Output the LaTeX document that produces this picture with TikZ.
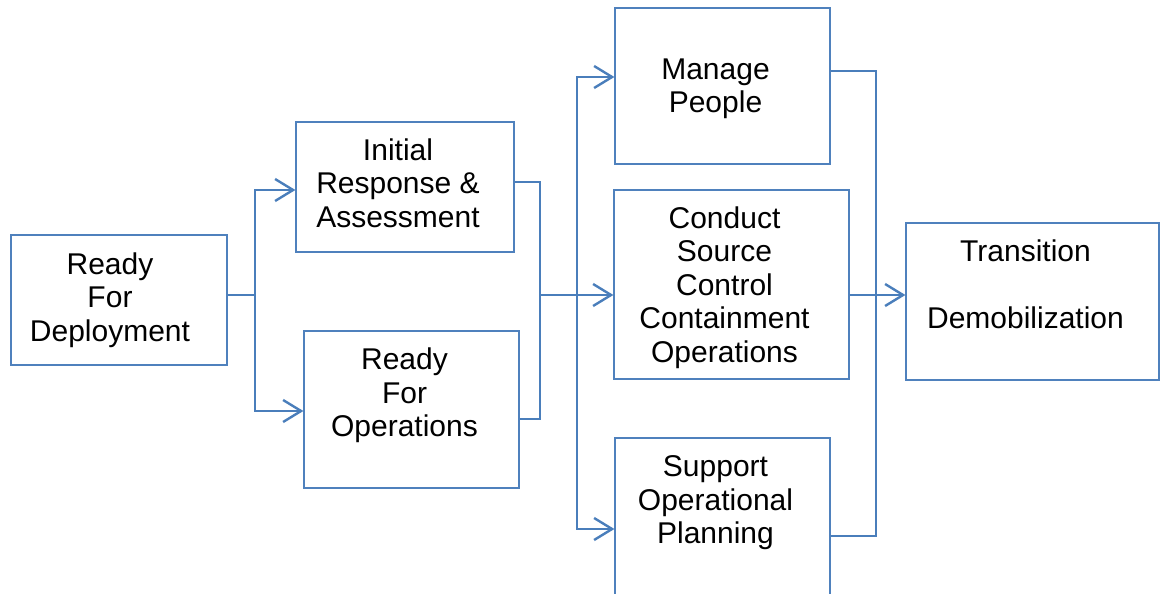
\documentclass[tikz,border=0pt]{standalone}
\usepackage{fontspec}
\setmainfont{Liberation Sans}
\usetikzlibrary{arrows.meta}
\definecolor{cor_caixa}{HTML}{4F81BD}
\definecolor{cor_linha}{HTML}{4A7EBB}

\begin{document}
\begin{tikzpicture}[x=1pt, y=-1pt]
        \tikzset{
            caixa/.style={
                draw=cor_caixa,
                line width=1.2pt,
                inner sep=0pt
            },
            texto/.style={
                font=\fontsize{30}{33.5}\selectfont,
                align=center,
                xshift=-7pt
            },
            liga/.style={
                draw=cor_linha,
                line width=2.4pt
            },
            seta/.style={
                liga,
                -{Straight Barb[length=18pt,width=22pt]}
            }
        }
        \useasboundingbox (0,0) rectangle (1160,594);

        %caixas
        \node[caixa, minimum width=216pt, minimum height=130pt,
              label={[texto, xshift=-2pt]center:Ready\\For\\Deployment}] (deploy) at (119,300) {};
        \node[caixa, minimum width=218pt, minimum height=130pt,
              label={[texto, yshift=4pt]center:Initial\\Response \&\\Assessment}] (init) at (405,187) {};
        \node[caixa, minimum width=215pt, minimum height=157pt,
              label={[texto, yshift=14pt]center:Ready\\For\\Operations}] (readyops) at (411.5,409.5) {};
        \node[caixa, minimum width=215pt, minimum height=156pt,
              label={[texto, yshift=-3pt]center:Manage\\People}] (manage) at (722.5,86) {};
        \node[caixa, minimum width=235pt, minimum height=189pt,
              label={[texto, yshift=-3pt]center:Conduct\\Source\\Control\\Containment\\Operations}] (conduct) at (731.5,284.5) {};
        \node[caixa, minimum width=215pt, minimum height=182pt,
              label={[texto, yshift=26pt]center:Support\\Operational\\Planning}] (support) at (722.5,529) {};
        \node[caixa, minimum width=253pt, minimum height=157pt,
              label={[texto, yshift=17pt]center:Transition\\[33.5pt]Demobilization}] (transition) at (1032.5,301.5) {};

        %ligacoes
        \coordinate (j1) at (255,295);
        \draw[liga] (deploy.east |- j1) -- (j1);
        \draw[seta] (j1) |- ([yshift=-3pt]init.west);
        \draw[seta] (j1) |- ([yshift=-1.5pt]readyops.west);

        \coordinate (j2) at (540,295);
        \draw[liga] ([yshift=5pt]init.east) -| (j2);
        \draw[liga] ([yshift=-9.5pt]readyops.east) -| (j2);
        \draw[seta] (j2) -- (conduct.west |- j2);

        \coordinate (j3) at (577,295);
        \draw[seta] (j3) |- ([yshift=9pt]manage.west);
        \draw[seta] (j3) |- (support.west);

        \coordinate (j4) at (876,295);
        \draw[liga] ([yshift=15pt]manage.east) -| (j4);
        \draw[liga] ([yshift=-7pt]support.east) -| (j4);
        \draw[seta] (conduct.east |- j4) -- (transition.west |- j4);

\end{tikzpicture}
\end{document}
